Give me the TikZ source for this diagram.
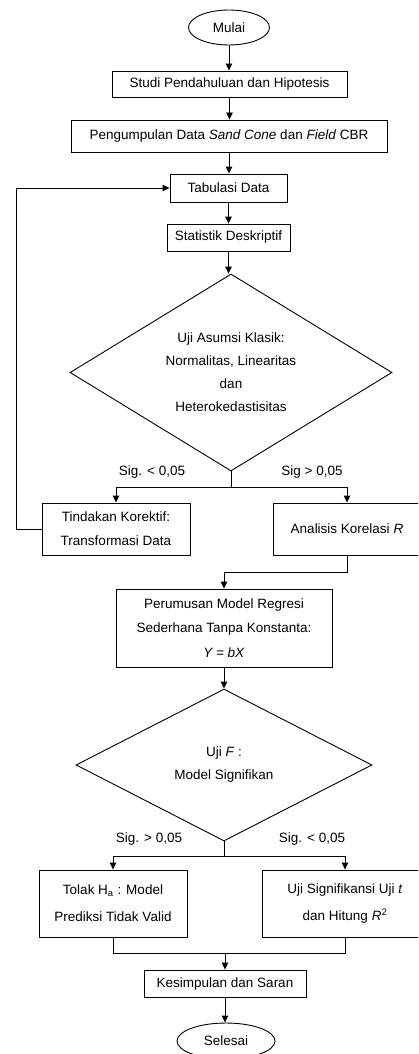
\documentclass[tikz,border=0pt]{standalone}
\usepackage{fontspec}
\setmainfont{Liberation Sans}
\usetikzlibrary{shapes.geometric,arrows.meta}
\newcommand\flfont{\fontsize{13.5}{23}\selectfont}
\begin{document}
\begin{tikzpicture}[x=1pt,y=-1pt,line width=0.9pt,
  >={Triangle[length=7pt,width=6.5pt]},
  box/.style={draw,rectangle,inner sep=0pt,align=center,font=\flfont},
  term/.style={draw,ellipse,inner sep=0pt,align=center,font=\flfont},
  dec/.style={draw,diamond,inner sep=0pt,align=center,font=\flfont},
  lbl/.style={inner sep=0pt,font=\flfont}]
\useasboundingbox (0,0) rectangle (418,1054);
\clip (0,0) rectangle (418,1054);
\fill[white] (0,0) rectangle (418,1054);

\node[term,minimum width=81pt,minimum height=35pt] (mulai) at (229,27.5) {Mulai};
\node[box,minimum width=235pt,minimum height=26pt] (studi) at (229.5,84) {Studi Pendahuluan dan Hipotesis};
\node[box,minimum width=316pt,minimum height=32pt] (kumpul) at (229,136) {Pengumpulan Data \textit{Sand Cone} dan \textit{Field} CBR};
\node[box,minimum width=117pt,minimum height=28pt] (tabul) at (228.5,188) {Tabulasi Data};
\node[box,minimum width=123pt,minimum height=27pt] (stat) at (228.5,237.5) {Statistik Deskriptif};
\node[dec,aspect=1.64,minimum width=322pt,minimum height=197pt] (d1) at (231,372.5) {Uji Asumsi Klasik:\\Normalitas, Linearitas\\dan\\Heterokedastisitas};
\node[box,minimum width=148pt,minimum height=52pt,font=\fontsize{13.5}{24}\selectfont] (tind) at (116,529) {Tindakan Korektif:\\Transformasi Data};
\node[box,minimum width=148pt,minimum height=52pt] (anal) at (347,529) {Analisis Korelasi \textit{R}};
\node[box,minimum width=216pt,minimum height=78pt,font=\fontsize{13.5}{24.5}\selectfont] (perum) at (224,628) {Perumusan Model Regresi\\Sederhana Tanpa Konstanta:\\\textit{Y = bX}};
\node[dec,aspect=1.95,minimum width=296pt,minimum height=152pt] (d2) at (224,765) {Uji \textit{F} :\\Model Signifikan};
\node[box,minimum width=148pt,minimum height=67pt,font=\fontsize{13.5}{27}\selectfont] (tolak) at (113,903.5) {Tolak H\textsubscript{a} : Model\\Prediksi Tidak Valid};
\node[box,minimum width=166pt,minimum height=67pt,font=\fontsize{13.5}{27}\selectfont] (ujisig) at (345,903.5) {Uji Signifikansi Uji \textit{t}\\dan Hitung \textit{R}\textsuperscript{2}};
\node[box,minimum width=162pt,minimum height=27pt] (kesim) at (225,983.5) {Kesimpulan dan Saran};
\node[term,minimum width=98pt,minimum height=36pt] (selesai) at (226,1041) {Selesai};

\node[lbl] (l1) at (152,472) {Sig. < 0,05};
\node[lbl] (l2) at (312,472) {Sig > 0,05};
\node[lbl] (l3) at (149,839) {Sig. > 0,05};
\node[lbl] (l4) at (312,839) {Sig. < 0,05};

\coordinate (b1) at (231,487);
\coordinate (b2) at (224,856);
\coordinate (m) at (225,953);

\draw[->] (mulai.south) -- (mulai.south |- studi.north);
\draw[->] (studi.south) -- (studi.south |- kumpul.north);
\draw[->] (kumpul.south) -- (kumpul.south |- tabul.north);
\draw[->] (tabul.south) -- (tabul.south |- stat.north);
\draw[->] (stat.south) -- (stat.south |- d1.north);
\draw (d1.south) -- (b1);
\draw[->] (b1) -| (tind.north);
\draw[->] (b1) -| (anal.north);
\draw[->] (tind.west) -- ++(-25,0) |- (tabul.west);
\draw[->] (anal.south) -- ++(0,17) -| (perum.north);
\draw[->] (perum.south) -- (d2.north);
\draw (d2.south) -- (b2);
\draw[->] (b2) -| (tolak.north);
\draw[->] (b2) -| (ujisig.north);
\draw (tolak.south) |- (m);
\draw (ujisig.south) |- (m);
\draw[->] (m) -- (kesim.north);
\draw[->] (kesim.south) -- (kesim.south |- selesai.north);
\end{tikzpicture}
\end{document}
